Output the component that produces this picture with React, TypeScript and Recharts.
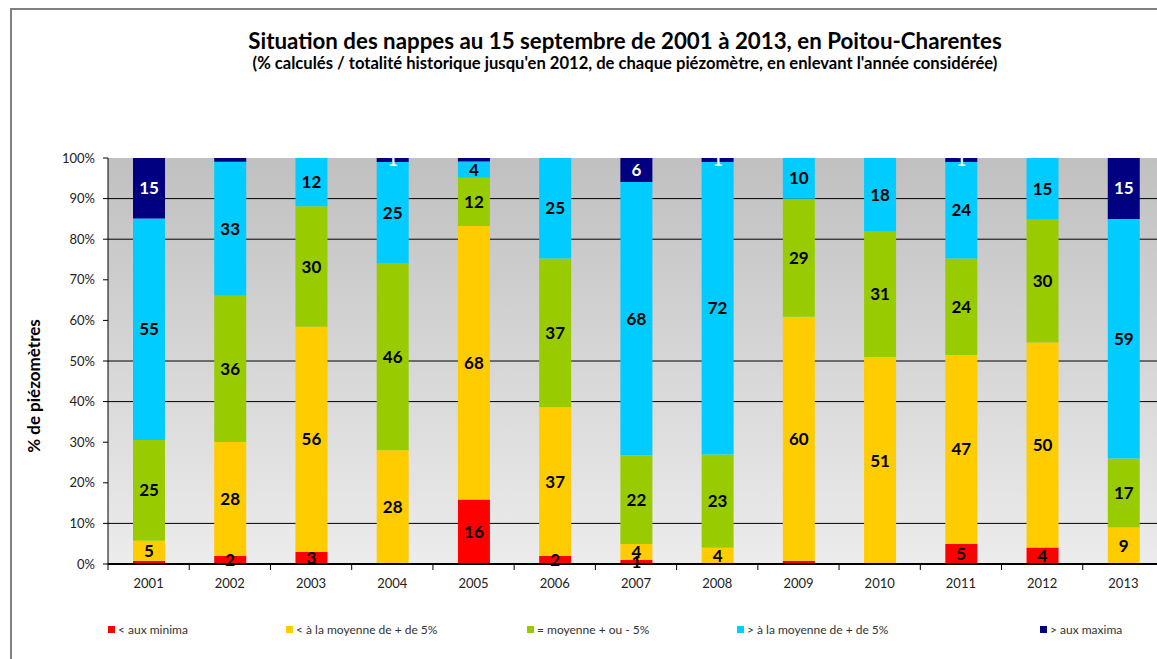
import { BarChart, Bar, XAxis, YAxis, CartesianGrid, LabelList, Legend } from 'recharts';

const YEARS = ['2001', '2002', '2003', '2004', '2005', '2006', '2007', '2008', '2009', '2010', '2011', '2012', '2013'];
// valeurs en % de piézomètres par classe (du bas vers le haut)
const MINIMA = [0.8, 2, 3, 0, 16, 2, 1, 0, 0.8, 0, 5, 4, 0];
const SOUS_MOYENNE = [5, 28, 56, 28, 68, 37, 4, 4, 60, 51, 47, 50, 9];
const MOYENNE = [25, 36, 30, 46, 12, 37, 22, 23, 29, 31, 24, 30, 17];
const SUR_MOYENNE = [55, 33, 12, 25, 4, 25, 68, 72, 10, 18, 24, 15, 59];
const MAXIMA = [15, 0.9, 0, 1, 0.9, 0, 6, 1, 0, 0, 1, 0, 15];
const Y_TICKS = [0, 0.1, 0.2, 0.3, 0.4, 0.5, 0.6, 0.7, 0.8, 0.9, 1];
const GRID_VALUES = [0.1, 0.4, 0.5, 0.8, 0.9];

const SERIES = [
  { key: 'minima', name: '< aux minima', color: '#FF0000', label: '#000', values: MINIMA },
  { key: 'sousMoyenne', name: '< à la moyenne de + de 5%', color: '#FFCC00', label: '#000', values: SOUS_MOYENNE },
  { key: 'moyenne', name: '= moyenne + ou - 5%', color: '#99CC00', label: '#000', values: MOYENNE },
  { key: 'surMoyenne', name: '> à la moyenne de + de 5%', color: '#00CCFF', label: '#000', values: SUR_MOYENNE },
  { key: 'maxima', name: '> aux maxima', color: '#000080', label: '#fff', values: MAXIMA },
];

const data = YEARS.map((year, i) => {
  const row: any = { year };
  SERIES.forEach(s => { row[s.key] = s.values[i]; });
  return row;
});

const W = 1180;
const H = 659;
const X_AXIS_H = 30;
const LEGEND_H = 14;
const PLOT_BOTTOM = 564;
const MARGIN = { top: 158, right: 16, bottom: H - PLOT_BOTTOM - X_AXIS_H - LEGEND_H, left: 33 };
const Y_AXIS_W = 75;
const PLOT_LEFT = MARGIN.left + Y_AXIS_W;
const BAND = (W - MARGIN.right - PLOT_LEFT) / YEARS.length;
const LEGEND_X = [108, 286, 527, 737, 1040];
const FONT = 'Lato, "DejaVu Sans", sans-serif';

function YearTick(props: any) {
  const { x, payload, index } = props;
  return (
    <g>
      <line x1={x - BAND / 2} x2={x - BAND / 2} y1={PLOT_BOTTOM} y2={PLOT_BOTTOM + 6} stroke="#000" />
      {index === YEARS.length - 1 && (
        <line x1={x + BAND / 2} x2={x + BAND / 2} y1={PLOT_BOTTOM} y2={PLOT_BOTTOM + 6} stroke="#000" />
      )}
      <text x={x} y={PLOT_BOTTOM + 24} textAnchor="middle" fontSize={13} fill="#222" fontFamily={FONT}>
        {payload.value}
      </text>
    </g>
  );
}

function LegendContent() {
  return (
    <div style={{ position: 'relative', height: LEGEND_H }}>
      {SERIES.map((s, i) => (
        <div
          key={s.key}
          style={{
            position: 'absolute',
            left: LEGEND_X[i],
            top: 0,
            display: 'flex',
            alignItems: 'center',
            fontSize: 12,
            fontFamily: FONT,
            color: '#333',
            whiteSpace: 'nowrap',
          }}
        >
          <span style={{ display: 'inline-block', width: 7, height: 7, background: s.color, marginRight: 3 }} />
          {s.name}
        </div>
      ))}
    </div>
  );
}

export default function App() {
  return (
    <div style={{ position: 'absolute', left: 0, top: 0, width: 1157, height: 659, overflow: 'hidden', background: '#fff' }}>
      <div
        style={{
          position: 'absolute',
          left: 10,
          top: 8,
          width: 1300,
          height: 800,
          borderLeft: '2px solid #808080',
          borderTop: '2px solid #808080',
        }}
      />
      <div
        style={{
          position: 'absolute',
          left: 0,
          width: 1250,
          top: 27,
          textAlign: 'center',
          fontFamily: FONT,
          fontWeight: 'bold',
          fontSize: 22.3,
          color: '#000',
        }}
      >
        Situation des nappes au 15 septembre de 2001 à 2013, en Poitou-Charentes
      </div>
      <div
        style={{
          position: 'absolute',
          left: 0,
          width: 1250,
          top: 53,
          textAlign: 'center',
          fontFamily: FONT,
          fontWeight: 'bold',
          fontSize: 16.6,
          color: '#000',
        }}
      >
        (% calculés / totalité historique jusqu'en 2012, de chaque piézomètre,  en enlevant l'année considérée)
      </div>
      <BarChart
        width={W}
        height={H}
        data={data}
        margin={MARGIN}
        stackOffset="expand"
        barSize={32}
        style={{ position: 'absolute', left: 0, top: 0 }}
      >
        <defs>
          <linearGradient id="plotBg" x1="0" y1="0" x2="0" y2="1">
            <stop offset="0%" stopColor="#c0c0c0" />
            <stop offset="100%" stopColor="#ececec" />
          </linearGradient>
        </defs>
        <CartesianGrid
          vertical={false}
          horizontalValues={GRID_VALUES}
          stroke="#000"
          strokeOpacity={1}
          fill="url(#plotBg)"
          fillOpacity={1}
        />
        <XAxis
          dataKey="year"
          tick={<YearTick />}
          tickLine={false}
          axisLine={{ stroke: '#000', strokeWidth: 2 }}
          interval={0}
          height={X_AXIS_H}
        />
        <YAxis
          width={Y_AXIS_W}
          domain={[0, 1]}
          ticks={Y_TICKS}
          tickFormatter={(v: number) => `${Math.round(v * 100)}%`}
          tick={{ fill: '#222', fontSize: 13, fontFamily: FONT }}
          tickLine={{ stroke: '#000' }}
          tickSize={5}
          tickMargin={8}
          axisLine={{ stroke: '#000' }}
          label={{
            content: () => (
              <text
                x={36}
                y={386}
                transform="rotate(-90 36 386)"
                textAnchor="middle"
                dominantBaseline="middle"
                fontSize={17}
                fontWeight="bold"
                fontFamily={FONT}
                fill="#000"
              >
                % de piézomètres
              </text>
            ),
          }}
        />
        <Legend
          content={<LegendContent />}
          verticalAlign="bottom"
          height={LEGEND_H}
          wrapperStyle={{ left: 0, top: 622, width: W }}
        />
        {SERIES.map(s => (
          <Bar key={s.key} dataKey={s.key} name={s.name} stackId="a" fill={s.color} isAnimationActive={false}>
            <LabelList
              dataKey={s.key}
              position="center"
              formatter={(v: any) => (Number(v) >= 1 ? v : '')}
              fill={s.label}
              fontSize={17}
              fontWeight="bold"
              fontFamily={FONT}
            />
          </Bar>
        ))}
      </BarChart>
    </div>
  );
}
